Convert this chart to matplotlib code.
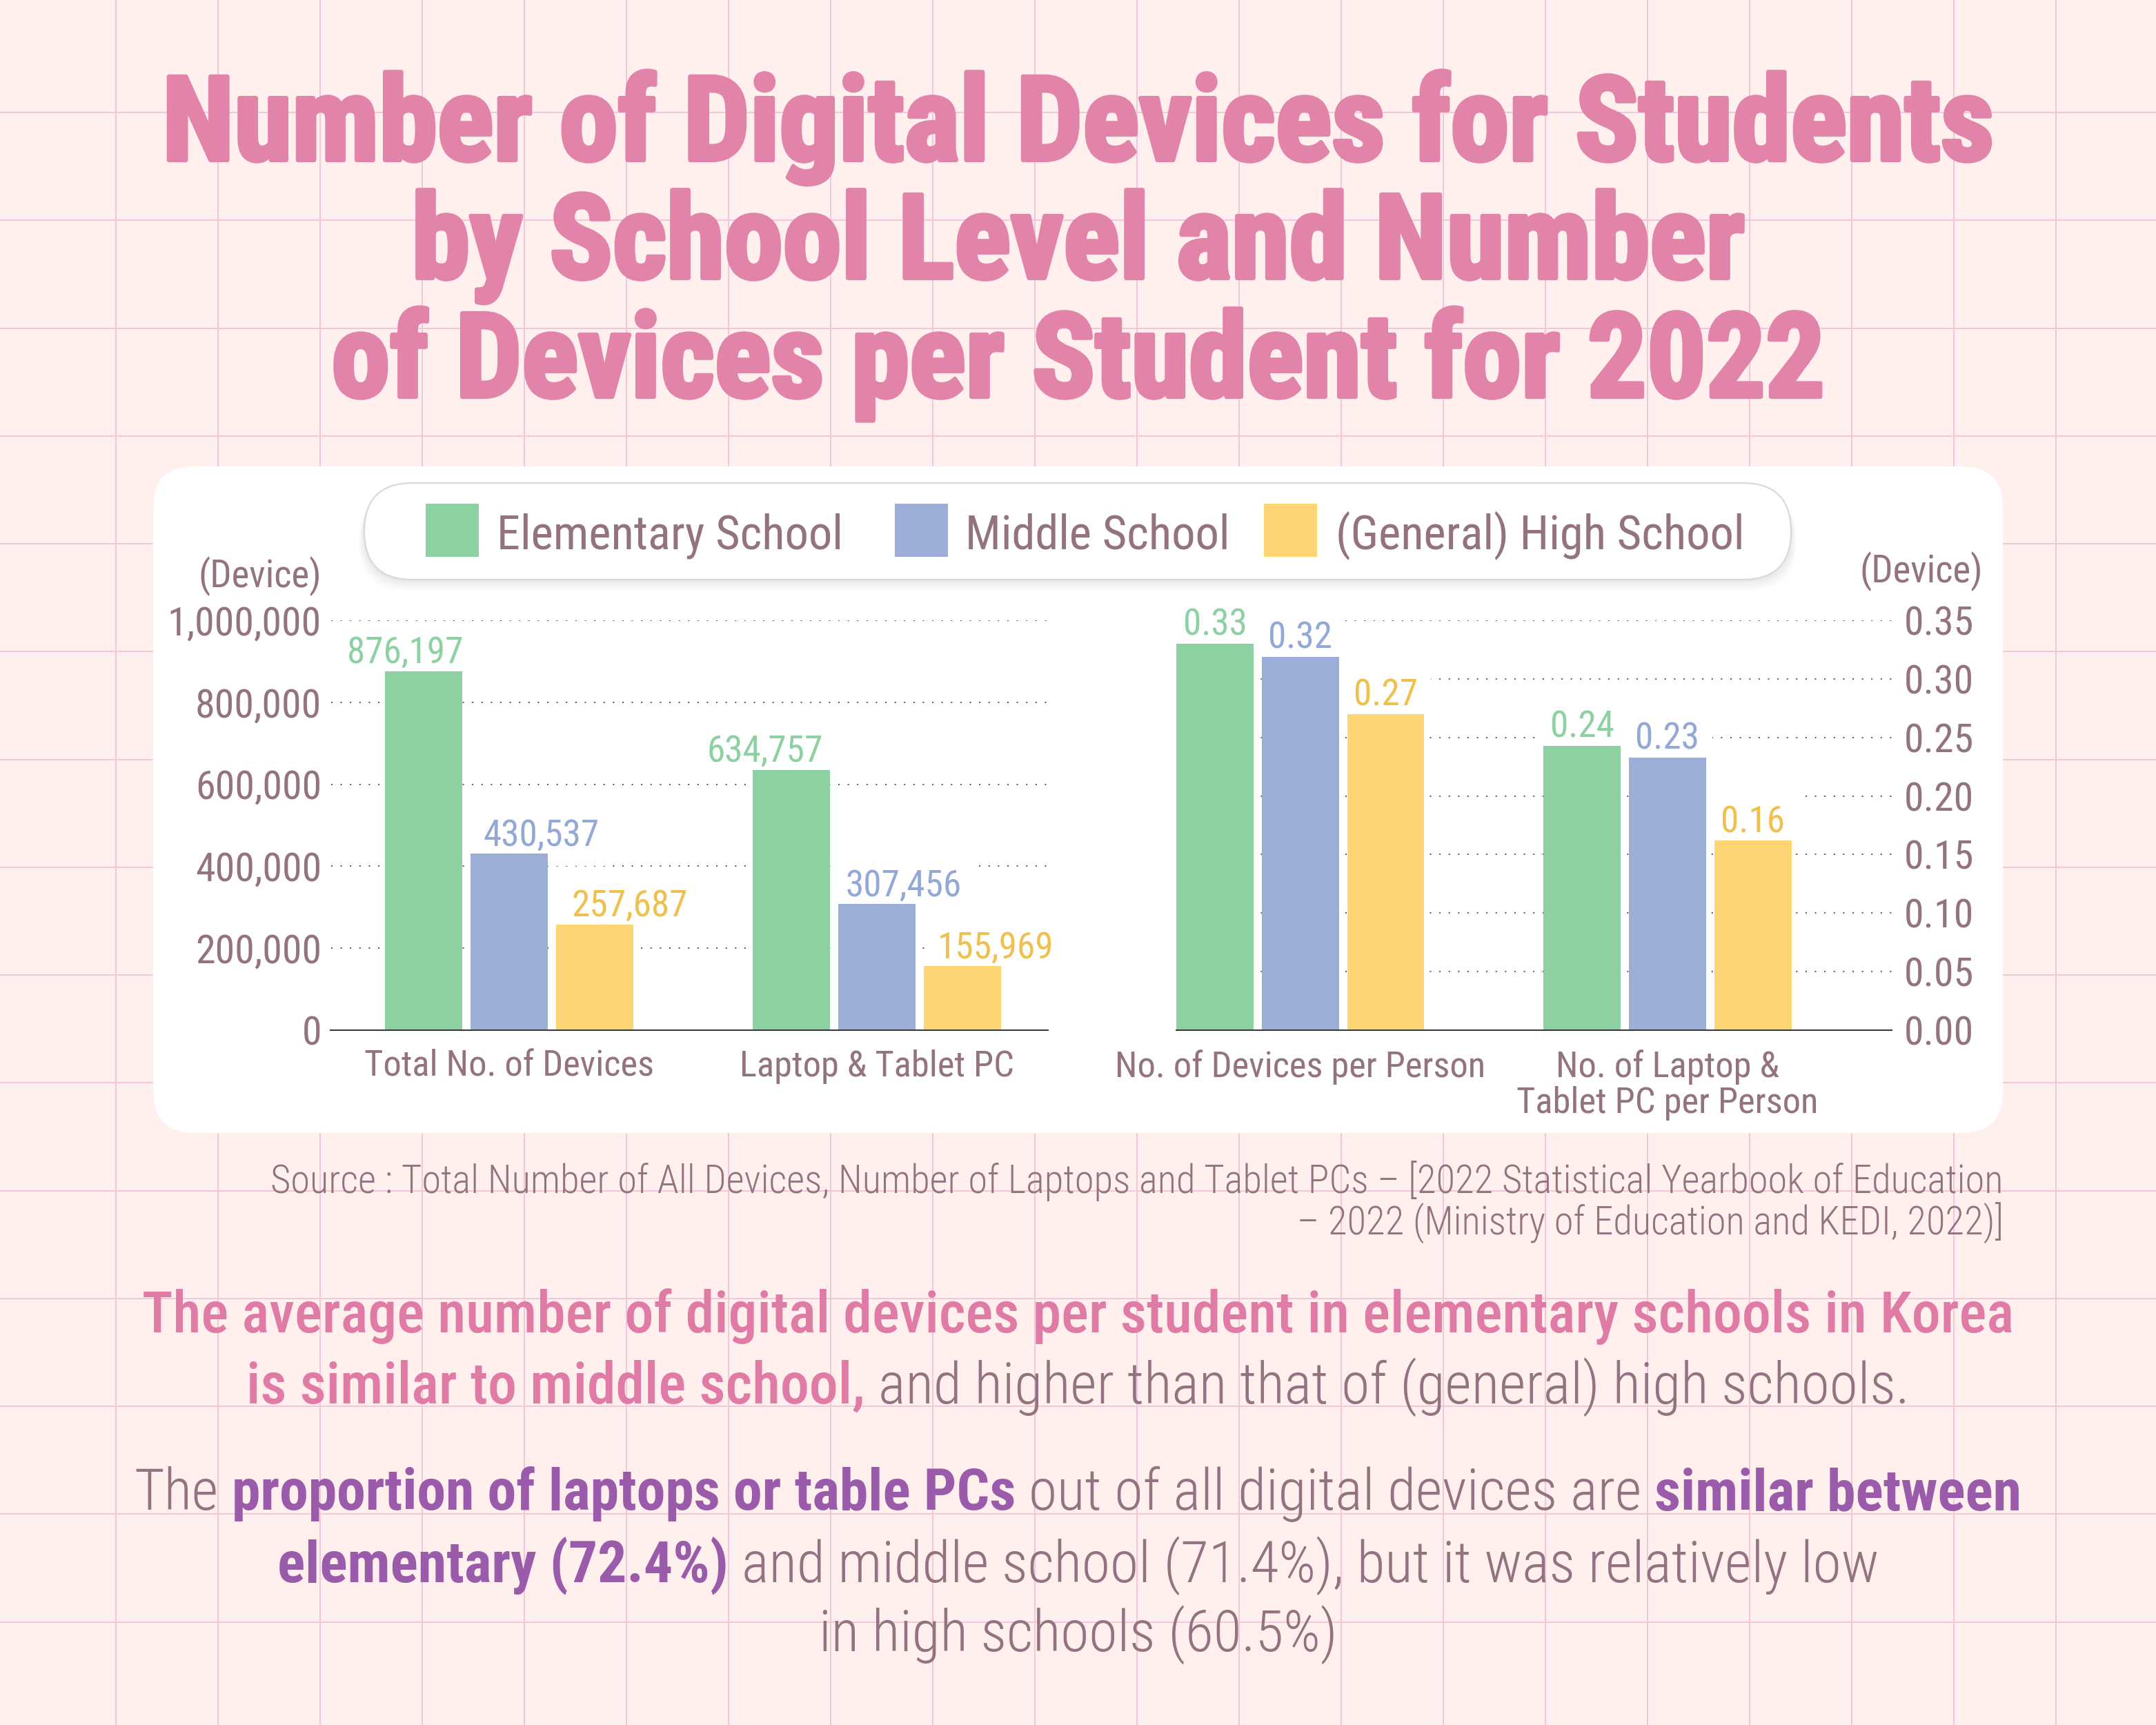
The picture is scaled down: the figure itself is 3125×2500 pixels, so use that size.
import os
import numpy as np
import matplotlib
matplotlib.use("Agg")
import matplotlib.pyplot as plt
from matplotlib import font_manager as fm
from matplotlib.font_manager import FontProperties
from matplotlib.patches import FancyBboxPatch, Rectangle
import matplotlib.patheffects as pe

# ---------------- data ----------------
cats_left = ["Total No. of Devices", "Laptop & Tablet PC"]
elem_left = [876197, 634757]
mid_left = [430537, 307456]
high_left = [257687, 155969]

cats_right = ["No. of Devices per Person", "No. of Laptop &\nTablet PC per Person"]
elem_right = [0.33, 0.243]
mid_right = [0.319, 0.233]
high_right = [0.27, 0.162]

series_names = ["Elementary School", "Middle School", "(General) High School"]
left_ticks = [0, 200000, 400000, 600000, 800000, 1000000]
right_ticks = [0.00, 0.05, 0.10, 0.15, 0.20, 0.25, 0.30, 0.35]

title_lines = ["Number of Digital Devices for Students",
               "by School Level and Number",
               "of Devices per Student for 2022"]
source_lines = ["Source : Total Number of All Devices, Number of Laptops and Tablet PCs \u2013 [2022 Statistical Yearbook of Education",
                "\u2013 2022 (Ministry of Education and KEDI, 2022)]"]

# ---------------- style ----------------
BG = "#fff0ee"
GRIDC = "#f1c7db"
TITLE = "#e284aa"
MAUVE = "#93737f"
PINK = "#e07ba6"
PURPLE = "#9a5caa"
GREEN = "#8dd1a3"
BLUE = "#9caed8"
YELLOW = "#fdd573"
LBL_COLORS = ["#8dd1a3", "#93a8d6", "#f0c04e"]
BAR_COLORS = [GREEN, BLUE, YELLOW]

W, H = 3125, 2500
files = [f.fname for f in fm.fontManager.ttflist]


def find_font(cands, fb_family, fb_weight):
    base = {os.path.splitext(os.path.basename(f))[0].lower(): f for f in files}
    for c in cands:
        if c in base:
            return FontProperties(fname=base[c])
    return FontProperties(family=fb_family, weight=fb_weight)


F_REG = find_font(["notosans-condensed", "notosans-condensedregular", "notosans-semicondensed",
                   "robotocondensed-regular", "liberationsansnarrow-regular",
                   "dejavusanscondensed"], "Noto Sans", "normal")
F_LIGHT = find_font(["notosans-condensedlight", "robotocondensed-light",
                     "notosans-condensed", "robotocondensed-regular",
                     "liberationsansnarrow-regular", "dejavusanscondensed"], "Noto Sans", "light")
F_MED = find_font(["notosans-condensedmedium", "notosans-condensedsemibold",
                   "robotocondensed-medium", "robotocondensed-bold",
                   "liberationsansnarrow-bold", "dejavusanscondensed-bold"], "Noto Sans", "medium")
F_BOLD = find_font(["notosans-condensedsemibold", "notosans-condensedbold",
                    "robotocondensed-bold", "liberationsansnarrow-bold",
                    "dejavusanscondensed-bold"], "Noto Sans", "bold")
F_TITLE = find_font(["notosans-extracondensedblack", "notosans-extracondensedextrabold",
                     "notosans-condensedblack", "notosans-extracondensedbold",
                     "robotocondensed-black", "robotocondensed-extrabold", "robotocondensed-bold",
                     "liberationsansnarrow-bold", "dejavusanscondensed-bold"], "Roboto", "black")


def fp(base, size):
    p = base.copy()
    p.set_size(size)
    return p


fig = plt.figure(figsize=(W / 100, H / 100), dpi=100)
fig.patch.set_facecolor(BG)
ax0 = fig.add_axes([0, 0, 1, 1])
ax0.set_xlim(0, W)
ax0.set_ylim(H, 0)
ax0.axis("off")
ax0.set_zorder(0)
renderer = fig.canvas.get_renderer()


def text_w(s, prop):
    t = ax0.text(0, 0, s, fontproperties=prop)
    w = t.get_window_extent(renderer).width
    t.remove()
    return w


def fit(s, base, target):
    return 100.0 * target / text_w(s, fp(base, 100))


# background grid
for k in range(20):
    ax0.axvline(168 + 148 * k, color=GRIDC, lw=1.4, zorder=0)
for k in range(15):
    ax0.axhline(163 + 156.25 * k, color=GRIDC, lw=1.4, zorder=0)

# title (heavy look via a same-colour stroke)
ts = fit(title_lines[0], F_TITLE, 2655)
for line, yb in zip(title_lines, [232, 403, 575]):
    ax0.text(1563, yb, line, fontproperties=fp(F_TITLE, ts), color=TITLE,
             ha="center", va="baseline", zorder=2,
             path_effects=[pe.withStroke(linewidth=4.5, foreground=TITLE)])

# white panel
ax0.add_patch(FancyBboxPatch((222, 676), 2681, 966, boxstyle="round,pad=0,rounding_size=60",
                             fc="white", ec="none", zorder=1))
# legend pill with soft shadow
for i, a in enumerate([0.025, 0.025, 0.02, 0.015]):
    d = 4 + 4 * i
    ax0.add_patch(FancyBboxPatch((528 - d / 2, 700 + d), 2068 + d, 140,
                                 boxstyle="round,pad=0,rounding_size=70",
                                 fc="#000000", ec="none", alpha=a, zorder=1.1))
ax0.add_patch(FancyBboxPatch((528, 700), 2068, 140, boxstyle="round,pad=0,rounding_size=70",
                             fc="white", ec="#d9d9d9", lw=1.6, zorder=1.2))
ls = fit(series_names[0], F_REG, 502)
for name, col, px, tx in zip(series_names, BAR_COLORS, [617, 1297, 1832], [720, 1399, 1936]):
    ax0.add_patch(Rectangle((px, 730), 77, 77, fc=col, ec="none", zorder=1.3))
    ax0.text(tx, 795, name, fontproperties=fp(F_REG, ls), color=MAUVE,
             ha="left", va="baseline", zorder=1.3)

# sizes
tick_size = fit("1,000,000", F_REG, 223)
val_size = fit("876,197", F_REG, 168)
cat_size = fit("Total No. of Devices", F_REG, 420)
dev_size = fit("(Device)", F_REG, 179)

ax0.text(466, 851, "(Device)", fontproperties=fp(F_REG, dev_size), color=MAUVE,
         ha="right", va="baseline", zorder=2)
ax0.text(2874, 844, "(Device)", fontproperties=fp(F_REG, dev_size), color=MAUVE,
         ha="right", va="baseline", zorder=2)

# chart axes
ybot = (H - 1493) / H
yh = 594 / H
axL = fig.add_axes([479.5 / W, ybot, 1039.5 / W, yh])
axR = fig.add_axes([1705 / W, ybot, 1037 / W, yh])

bw = 0.21
off = 0.2326
left_dx_px = [[-27, -38], [47, 39], [51, 48]]


def draw(ax, data, cats, ymax, fmt, dxs, xlim):
    x = np.arange(len(cats))
    ax.set_facecolor("none")
    ax.set_zorder(3)
    for i, vals in enumerate(data):
        xs = x + (i - 1) * off
        ax.bar(xs, vals, width=bw, color=BAR_COLORS[i], zorder=2)
        for j, (xx, v) in enumerate(zip(xs, vals)):
            dx = dxs[i][j] * 0.72 if dxs is not None else 0
            ax.annotate(fmt(v), (xx, v), xytext=(dx, 12 * 0.72), textcoords="offset points",
                        ha="center", va="baseline", color=LBL_COLORS[i],
                        fontproperties=fp(F_REG, val_size), zorder=1.5,
                        bbox=dict(boxstyle="square,pad=0.35", fc="white", ec="none"))
    ax.set_xlim(*xlim)
    ax.set_ylim(0, ymax)
    for s in ["top", "left", "right"]:
        ax.spines[s].set_visible(False)
    ax.spines["bottom"].set_color("#3a3a3a")
    ax.spines["bottom"].set_linewidth(1.5)
    ax.spines["bottom"].set_zorder(4)
    ax.yaxis.grid(True, linestyle=(0, (1, 6)), color="#555555", lw=1.4)
    ax.set_axisbelow(True)
    ax.set_xticks(x)
    ax.set_xticklabels(cats, fontproperties=fp(F_REG, cat_size), color=MAUVE,
                       linespacing=1.05)
    ax.tick_params(axis="x", length=0, pad=20)


draw(axL, [elem_left, mid_left, high_left], cats_left, 1000000,
     lambda v: f"{v:,}", left_dx_px, (-0.485, 1.465))
axL.set_yticks(left_ticks)
axL.set_yticklabels([f"{t:,}" for t in left_ticks], fontproperties=fp(F_REG, tick_size), color=MAUVE)
axL.tick_params(axis="y", length=0, pad=9.7)

draw(axR, [elem_right, mid_right, high_right], cats_right, 0.35,
     lambda v: f"{v:.2f}", None, (-0.338, 1.611))
axR.yaxis.tick_right()
axR.set_yticks(right_ticks)
axR.set_yticklabels([f"{t:.2f}" for t in right_ticks], fontproperties=fp(F_REG, tick_size),
                    color=MAUVE, ha="right")
axR.tick_params(axis="y", length=0, pad=85.7)

# source
ss = fit(source_lines[0], F_LIGHT, 2511)
for line, yb in zip(source_lines, [1729, 1790]):
    ax0.text(2904, yb, line, fontproperties=fp(F_LIGHT, ss), color=MAUVE,
             ha="right", va="baseline", zorder=2)

# paragraphs
FONTS = {"reg": F_LIGHT, "med": F_MED, "bold": F_BOLD}


def seg_width(segs, size):
    ws = [text_w(t, fp(FONTS[f], size)) for t, c, f in segs]
    sp = text_w("a a", fp(F_LIGHT, size)) - text_w("aa", fp(F_LIGHT, size))
    return ws, sp, sum(ws) + sp * (len(segs) - 1)


def seg_line(segs, yb, size, cx=1562.5):
    ws, sp, tot = seg_width(segs, size)
    x = cx - tot / 2
    for (t, c, f), w in zip(segs, ws):
        ax0.text(x, yb, t, fontproperties=fp(FONTS[f], size), color=c,
                 ha="left", va="baseline", zorder=2)
        x += w + sp


p1 = [
    [("The average number of digital devices per student in elementary schools in Korea", PINK, "med")],
    [("is similar to middle school,", PINK, "med"),
     ("and higher than that of (general) high schools.", MAUVE, "reg")],
]
p2 = [
    [("The", MAUVE, "reg"), ("proportion of laptops or table PCs", PURPLE, "bold"),
     ("out of all digital devices are", MAUVE, "reg"), ("similar between", PURPLE, "bold")],
    [("elementary (72.4%)", PURPLE, "bold"),
     ("and middle school (71.4%), but it was relatively low", MAUVE, "reg")],
    [("in high schools (60.5%)", MAUVE, "reg")],
]
s1 = 100 * 2715 / seg_width(p1[0], 100)[2]
for segs, yb in zip(p1, [1931, 2034]):
    seg_line(segs, yb, s1)
s2 = 100 * 2735 / seg_width(p2[0], 100)[2]
for segs, yb in zip(p2, [2188, 2293, 2393]):
    seg_line(segs, yb, s2)

fig.savefig("out.png", dpi=100, facecolor=BG)
